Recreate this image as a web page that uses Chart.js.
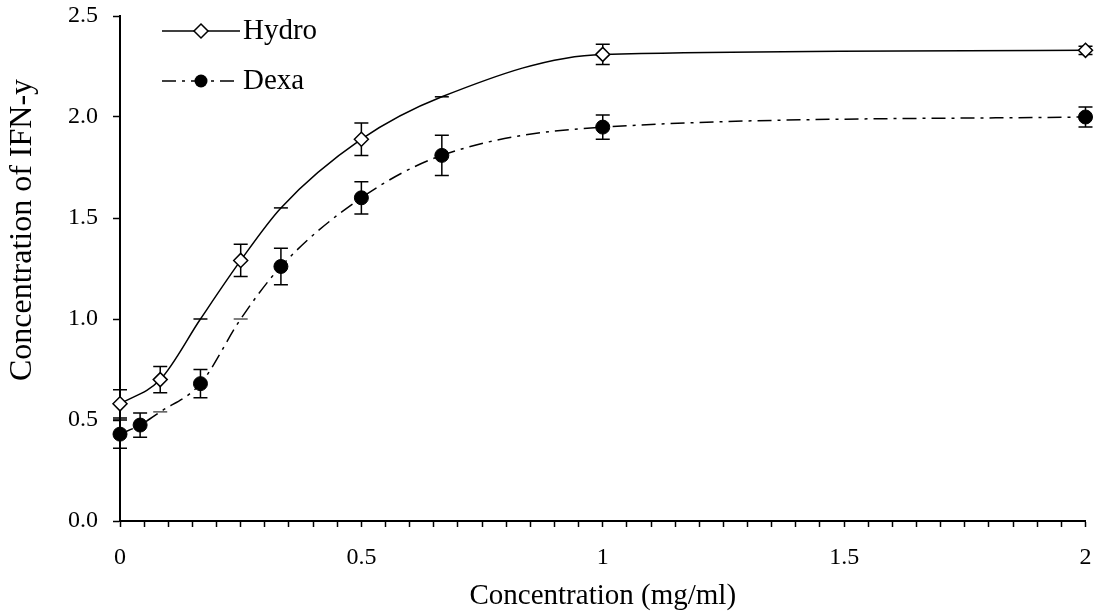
<!DOCTYPE html>
<html>
<head>
<meta charset="utf-8">
<script src="https://cdn.jsdelivr.net/npm/chart.js@4.4.0/dist/chart.umd.min.js"></script>
<style>
  body { margin: 0; background: #fff; }
  canvas { display: block; }
</style>
</head>
<body>
<canvas id="chart" width="1094" height="611"></canvas>
<script>
// concentrations (mg/ml) and IFN-y readings, err = half length of the error bar (0 = no marker)
const hydroX = [0, 1 / 12, 1 / 6, 1 / 4, 1 / 3, 1 / 2, 2 / 3, 1, 2];
const hydroY = [0.58, 0.70, 1.00, 1.29, 1.55, 1.89, 2.10, 2.31, 2.33];
const hydroErr = [0.07, 0.065, 0, 0.08, 0, 0.08, 0, 0.05, 0.02];

const dexaX = [0, 1 / 24, 1 / 12, 1 / 6, 1 / 4, 1 / 3, 1 / 2, 2 / 3, 1, 2];
const dexaY = [0.43, 0.475, 0.54, 0.68, 1.00, 1.26, 1.60, 1.81, 1.95, 2.00];
const dexaErr = [0.07, 0.06, 0, 0.07, 0, 0.09, 0.08, 0.10, 0.06, 0.05];

const seriesNames = ['Hydro', 'Dexa'];
const xTickLabels = ['0', '0.5', '1', '1.5', '2'];
const yTickLabels = ['0.0', '0.5', '1.0', '1.5', '2.0', '2.5'];

const FONT = '"Liberation Serif", "Times New Roman", serif';
const DEXA_DASH = [14, 6, 3, 6];

function toPoints(xs, ys) {
  return xs.map((x, i) => ({ x: x, y: ys[i] }));
}

// points without error bar are only shown as a small cross line
function markerStyles(errs, style) {
  return errs.map(e => e === 0 ? 'line' : style);
}

// keep the plot area where the picture has it, labels may hang over the edges
function noPadding(scale) {
  scale.paddingLeft = 0;
  scale.paddingRight = 0;
  scale.paddingTop = 0;
  scale.paddingBottom = 0;
}

// error bars go under the markers
const errorBars = {
  id: 'errorBars',
  beforeDatasetsDraw(chart) {
    const ctx = chart.ctx;
    const xs = chart.scales.x, ys = chart.scales.y;
    const sets = [[hydroX, hydroY, hydroErr], [dexaX, dexaY, dexaErr]];
    ctx.save();
    ctx.strokeStyle = '#000';
    ctx.lineWidth = 1.5;
    sets.forEach(([sx, sy, se]) => {
      sx.forEach((x, i) => {
        if (!se[i]) return;
        const px = xs.getPixelForValue(x);
        const top = ys.getPixelForValue(sy[i] + se[i]);
        const bot = ys.getPixelForValue(sy[i] - se[i]);
        ctx.beginPath();
        ctx.moveTo(px, top); ctx.lineTo(px, bot);
        ctx.moveTo(px - 7, top); ctx.lineTo(px + 7, top);
        ctx.moveTo(px - 7, bot); ctx.lineTo(px + 7, bot);
        ctx.stroke();
      });
    });
    ctx.restore();
  }
};

// legend in the top left corner and the y axis title
const extras = {
  id: 'extras',
  afterDraw(chart) {
    const ctx = chart.ctx;
    ctx.save();
    ctx.strokeStyle = '#000';
    ctx.lineWidth = 1.5;

    // Hydro
    ctx.beginPath();
    ctx.moveTo(162, 31); ctx.lineTo(240, 31);
    ctx.stroke();
    ctx.beginPath();
    ctx.moveTo(201, 24); ctx.lineTo(208, 31); ctx.lineTo(201, 38); ctx.lineTo(194, 31);
    ctx.closePath();
    ctx.fillStyle = '#fff';
    ctx.fill();
    ctx.stroke();

    // Dexa
    ctx.setLineDash(DEXA_DASH);
    ctx.beginPath();
    ctx.moveTo(162, 81); ctx.lineTo(240, 81);
    ctx.stroke();
    ctx.setLineDash([]);
    ctx.beginPath();
    ctx.arc(201, 81, 6.5, 0, Math.PI * 2);
    ctx.fillStyle = '#000';
    ctx.fill();

    ctx.fillStyle = '#000';
    ctx.font = '29px ' + FONT;
    ctx.textBaseline = 'middle';
    ctx.textAlign = 'left';
    ctx.fillText(seriesNames[0], 243, 31);
    ctx.fillText(seriesNames[1], 243, 81);

    ctx.translate(23, 230);
    ctx.rotate(-Math.PI / 2);
    ctx.textAlign = 'center';
    ctx.font = '32px ' + FONT;
    ctx.fillText('Concentration of IFN-y', 0, 0);
    ctx.restore();
  }
};

new Chart(document.getElementById('chart'), {
  type: 'line',
  data: {
    datasets: [
      {
        label: seriesNames[0],
        data: toPoints(hydroX, hydroY),
        borderColor: '#000',
        borderWidth: 1.5,
        cubicInterpolationMode: 'monotone',
        pointStyle: markerStyles(hydroErr, 'rectRot'),
        pointRadius: 7,
        pointBackgroundColor: '#fff',
        pointBorderColor: '#000',
        pointBorderWidth: 1.5,
        clip: false
      },
      {
        label: seriesNames[1],
        data: toPoints(dexaX, dexaY),
        borderColor: '#000',
        borderWidth: 1.5,
        borderDash: DEXA_DASH,
        cubicInterpolationMode: 'monotone',
        pointStyle: markerStyles(dexaErr, 'circle'),
        pointRadius: 7,
        pointBackgroundColor: '#000',
        pointBorderColor: '#000',
        pointBorderWidth: 1,
        clip: false
      }
    ]
  },
  options: {
    responsive: false,
    animation: false,
    events: [],
    layout: { padding: { top: 16, right: 5, left: 0, bottom: 0 } },
    plugins: {
      legend: { display: false },
      tooltip: { enabled: false }
    },
    scales: {
      x: {
        type: 'linear',
        min: 0,
        max: 2,
        afterFit(scale) { scale.height = 90; noPadding(scale); },
        border: { display: true, color: '#000', width: 2 },
        grid: { drawOnChartArea: false, drawTicks: true, tickLength: 6, tickColor: '#000', tickWidth: 1.5 },
        ticks: {
          stepSize: 0.05,
          maxTicksLimit: 100,
          autoSkip: false,
          maxRotation: 0,
          padding: 16,
          color: '#000',
          font: { family: FONT, size: 24 },
          callback: v => {
            const k = Math.round(v * 2);
            return Math.abs(v * 2 - k) < 1e-6 ? xTickLabels[k] : '';
          }
        },
        title: {
          display: true,
          text: 'Concentration (mg/ml)',
          color: '#000',
          font: { family: FONT, size: 29, lineHeight: 1 },
          padding: { top: 0, bottom: 0 }
        }
      },
      y: {
        min: 0,
        max: 2.5,
        afterFit(scale) { scale.width = 120; noPadding(scale); },
        border: { display: true, color: '#000', width: 2 },
        grid: { drawOnChartArea: false, drawTicks: true, tickLength: 7, tickColor: '#000', tickWidth: 1.5 },
        ticks: {
          stepSize: 0.5,
          padding: 15,
          color: '#000',
          font: { family: FONT, size: 24 },
          callback: v => yTickLabels[Math.round(v * 2)]
        }
      }
    }
  },
  plugins: [errorBars, extras]
});
</script>
</body>
</html>
